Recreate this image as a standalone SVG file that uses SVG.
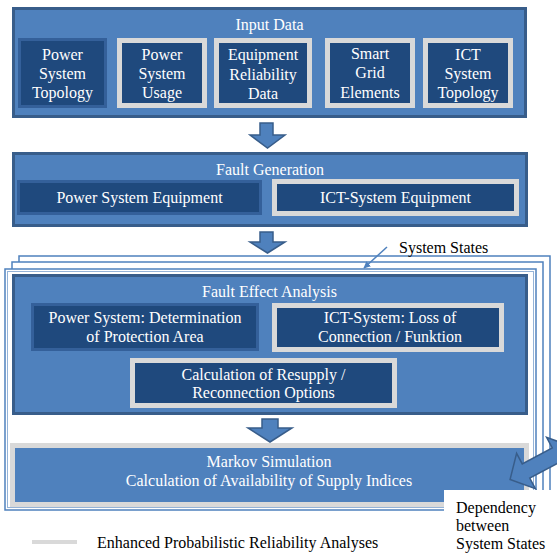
<svg xmlns="http://www.w3.org/2000/svg" width="557" height="553" viewBox="0 0 557 553">
<defs>
<style>
.outer{fill:#4F81BD;stroke:#385D8A;stroke-width:3}
.dk{fill:#1F497D;stroke:#34609A;stroke-width:3}
.gr{fill:#1F497D;stroke:#D9D9D9;stroke-width:5}
.frame{fill:#FFFFFF;stroke:#4F81BD;stroke-width:1.5}
.arr{fill:#4F81BD;stroke:#385D8A;stroke-width:1.5;stroke-linejoin:miter}
text{font-family:"Liberation Serif","Times New Roman",serif;font-size:16px}
.w{fill:#FFFFFF;text-anchor:middle}
.b{fill:#000000}
</style>
<marker id="ah" viewBox="0 0 10 10" refX="9" refY="5" markerWidth="7" markerHeight="7" orient="auto" markerUnits="userSpaceOnUse">
<path d="M0,0 L10,5 L0,10 z" fill="#4F81BD"/>
</marker>
</defs>

<g id="frames">
<rect class="frame" x="19" y="256" width="531" height="244"/>
<rect class="frame" x="12" y="262" width="531" height="244"/>
<rect class="frame" x="5" y="269" width="531" height="241"/>
<rect x="7.5" y="271.5" width="526" height="236" fill="none" stroke="#95B3D7" stroke-width="1"/>
</g>

<g id="input-data">
<rect class="outer" x="13.5" y="8.5" width="512" height="108"/>
<text class="w" x="269.5" y="30">Input Data</text>
</g>
<g id="power-system-topology">
<rect class="dk" x="19.5" y="39.5" width="86" height="67"/>
<text class="w" x="62.5" y="60">Power</text>
<text class="w" x="62.5" y="79">System</text>
<text class="w" x="62.5" y="98">Topology</text>
</g>
<g id="power-system-usage">
<rect class="gr" x="119.5" y="40.5" width="85" height="65"/>
<text class="w" x="162" y="60">Power</text>
<text class="w" x="162" y="79">System</text>
<text class="w" x="162" y="98">Usage</text>
</g>
<g id="equipment-reliability-data">
<rect class="gr" x="216.5" y="40.5" width="93" height="65"/>
<text class="w" x="263" y="60">Equipment</text>
<text class="w" x="263" y="80">Reliability</text>
<text class="w" x="263" y="99">Data</text>
</g>
<g id="smart-grid-elements">
<rect class="gr" x="327.5" y="40.5" width="85" height="65"/>
<text class="w" x="370" y="59">Smart</text>
<text class="w" x="370" y="78">Grid</text>
<text class="w" x="370" y="98">Elements</text>
</g>
<g id="ict-system-topology">
<rect class="gr" x="425.5" y="40.5" width="85" height="65"/>
<text class="w" x="468" y="60">ICT</text>
<text class="w" x="468" y="79">System</text>
<text class="w" x="468" y="98">Topology</text>
</g>

<g id="fault-generation">
<rect class="outer" x="13.5" y="153.5" width="513" height="72"/>
<text class="w" x="270" y="175">Fault Generation</text>
</g>
<g id="power-system-equipment">
<rect class="dk" x="18.5" y="181.5" width="242" height="32"/>
<text class="w" x="139.5" y="203">Power System Equipment</text>
</g>
<g id="ict-system-equipment">
<rect class="gr" x="274.5" y="181.5" width="242" height="32"/>
<text class="w" x="395.5" y="203">ICT-System Equipment</text>
</g>

<g id="fault-effect-analysis">
<rect class="outer" x="13.5" y="275.5" width="513" height="138"/>
<text class="w" x="269.5" y="297">Fault Effect Analysis</text>
</g>
<g id="protection-area">
<rect class="dk" x="32.5" y="304.5" width="225" height="45"/>
<text class="w" x="145" y="323">Power System: Determination</text>
<text class="w" x="145" y="342">of Protection Area</text>
</g>
<g id="loss-of-connection">
<rect class="gr" x="274.5" y="305.5" width="227" height="44"/>
<text class="w" x="390" y="323">ICT-System: Loss of</text>
<text class="w" x="390" y="342">Connection / Funktion</text>
</g>
<g id="resupply">
<rect class="gr" x="132.5" y="360.5" width="262" height="45"/>
<text class="w" x="263.5" y="380">Calculation of Resupply /</text>
<text class="w" x="263.5" y="398">Reconnection Options</text>
</g>

<g id="markov-simulation">
<rect x="12.5" y="445.5" width="514" height="59" fill="#4F81BD" stroke="#D9D9D9" stroke-width="5"/>
<text class="w" x="269" y="467">Markov Simulation</text>
<text class="w" x="269" y="486">Calculation of Availability of Supply Indices</text>
</g>

<g id="dependency-label">
<rect x="444" y="490" width="113" height="63" fill="#FFFFFF"/>
<text class="b" x="456" y="513">Dependency</text>
<text class="b" x="456" y="531">between</text>
<text class="b" x="456" y="549">System States</text>
</g>

<g id="system-states-label">
<text class="b" x="399" y="253">System States</text>
</g>

<g id="connectors">
<polygon class="arr" points="260,123 273,123 273,135 285,135 267.5,148 250,135 260,135"/>
<polygon class="arr" points="260,232 273,232 273,242 285,242 267.5,253 250,242 260,242"/>
<polygon class="arr" points="262,419 278,419 278,428 292,428 270,442 248,428 262,428"/>
<line x1="387" y1="247" x2="364" y2="268" stroke="#4F81BD" stroke-width="1.5" marker-end="url(#ah)"/>
<polygon class="arr" stroke-width="2" transform="translate(541,463) rotate(-28)" points="-35,0 -17,-20 -17,-8 17,-8 17,-20 35,0 17,20 17,8 -17,8 -17,20"/>
</g>

<g id="legend">
<line x1="32" y1="542" x2="77" y2="542" stroke="#D9D9D9" stroke-width="4"/>
<text class="b" x="97" y="548">Enhanced Probabilistic Reliability Analyses</text>
</g>
</svg>
